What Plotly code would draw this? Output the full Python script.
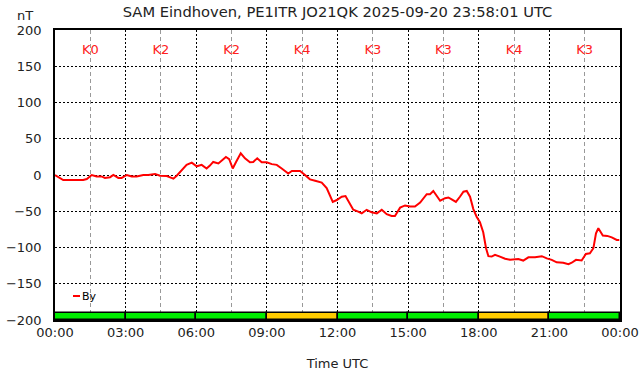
import plotly.graph_objects as go

# ---- data ----
hours = [0.00, 0.14, 0.35, 0.64, 0.92, 1.06, 1.20, 1.35, 1.56, 1.77, 1.98, 2.12, 2.34, 2.48, 2.69, 2.83,
         3.05, 3.26, 3.47, 3.75, 3.96, 4.25, 4.46, 4.75, 5.03, 5.17, 5.38, 5.59, 5.81, 6.02, 6.23, 6.44,
         6.58, 6.72, 6.94, 7.08, 7.26, 7.40, 7.55, 7.69, 7.89, 8.07, 8.28, 8.42, 8.59, 8.78, 8.99, 9.21,
         9.42, 9.63, 9.91, 10.06, 10.41, 10.62, 10.83, 11.05, 11.33, 11.54, 11.80, 11.97, 12.18, 12.34,
         12.53, 12.67, 12.88, 13.03, 13.24, 13.45, 13.67, 13.88, 14.09, 14.30, 14.44, 14.66, 14.87, 15.08,
         15.29, 15.51, 15.79, 15.93, 16.07, 16.21, 16.36, 16.57, 16.71, 16.85, 17.03, 17.20, 17.35, 17.49,
         17.63, 17.77, 17.91, 18.05, 18.19, 18.31, 18.41, 18.55, 18.69, 18.90, 19.12, 19.33, 19.54, 19.68,
         19.89, 20.11, 20.39, 20.68, 20.89, 21.10, 21.31, 21.59, 21.81, 21.95, 22.13, 22.37, 22.55, 22.72,
         22.87, 22.98, 23.08, 23.27, 23.46, 23.65, 23.86, 23.97]
by_nT = [0, -3, -7, -7, -7, -6, -7, -5.5, 0, -2, -2, -4, -3, 0, -4, -4,
         0, -2, -2, 0, 0, 1.5, -1, -1.5, -5, -1, 7, 14, 17, 12, 14, 9,
         13, 18, 16, 20, 25, 22, 9, 18, 30, 23, 17.5, 18, 23, 17.5, 17.5, 15,
         14, 9, 2, 5.5, 5.5, 0, -6, -8, -10.5, -18, -37, -34.5, -30, -29,
         -40, -48, -50.5, -53, -48, -51.5, -53, -48, -54, -56.5, -56.5, -45, -42, -43.5,
         -43.5, -38, -26.5, -26.5, -22, -29, -35.5, -32, -31, -33.5, -37, -30, -23, -22,
         -30, -47, -57.5, -65, -79, -101, -112, -112.5, -110, -112.5, -115.5, -117, -116, -116,
         -118, -113.5, -113.5, -112, -115, -117, -120.5, -121, -123, -121, -117, -118, -109, -108,
         -101, -80.5, -73.5, -83.5, -84, -86, -89.5, -89.5]

k_start_hours = [0, 3, 6, 9, 12, 15, 18, 21]
k_index = [0, 2, 2, 4, 3, 3, 4, 3]
k_labels = ["K0", "K2", "K2", "K4", "K3", "K3", "K4", "K3"]

x_tickvals = [0, 3, 6, 9, 12, 15, 18, 21, 24]
x_ticktext = ["00:00", "03:00", "06:00", "09:00", "12:00", "15:00", "18:00", "21:00", "00:00"]
x_minor_vals = [1.5, 4.5, 7.5, 10.5, 13.5, 16.5, 19.5, 22.5]
y_tickvals = [200, 150, 100, 50, 0, -50, -100, -150, -200]

title = "SAM Eindhoven, PE1ITR JO21QK 2025-09-20 23:58:01 UTC"

FONT = "DejaVu Sans"
Y_MIN, Y_MAX = -200, 200
K_BAR_H = 10
K_LABEL_Y = 172

k_centers = [s + 1.5 for s in k_start_hours]
k_colors = ["#ffcc00" if k >= 4 else "#00ee00" for k in k_index]

fig = go.Figure()

fig.add_trace(go.Bar(
    x=k_centers, y=[K_BAR_H] * len(k_centers), base=Y_MIN, width=3,
    marker=dict(color=k_colors, line=dict(color="black", width=1.5)),
    showlegend=False, hoverinfo="skip"))

fig.add_trace(go.Scatter(
    x=hours, y=by_nT, mode="lines", name="By",
    line=dict(color="#ff0000", width=2), showlegend=False))

fig.add_trace(go.Scatter(
    x=k_centers, y=[K_LABEL_Y] * len(k_centers), mode="text", text=k_labels,
    textfont=dict(color="#ff2020", size=13, family=FONT),
    showlegend=False, hoverinfo="skip"))

fig.update_layout(
    width=642, height=376,
    margin=dict(l=55, r=22, t=30, b=56, autoexpand=False),
    paper_bgcolor="white", plot_bgcolor="white",
    font=dict(family=FONT, size=13, color="#222222"),
    title=dict(text=title, x=(55 + 620) / 2 / 642, xanchor="center",
               y=1 - 12 / 376, yanchor="middle", font=dict(size=14.7, color="#222222"),
               automargin=False),
    showlegend=False,
    bargap=0,
)

fig.update_xaxes(
    range=[0, 24], tickvals=x_tickvals, ticktext=x_ticktext,
    showgrid=True, gridcolor="black", gridwidth=1, griddash="2px,2px",
    minor=dict(tickvals=x_minor_vals, showgrid=True, gridcolor="#999999",
               gridwidth=1, griddash="4px,3px"),
    showline=True, linecolor="black", linewidth=1.5, mirror=True,
    ticks="", tickfont=dict(size=13), zeroline=False, automargin=False,
    title=dict(text="Time UTC", font=dict(size=13), standoff=20),
)

fig.update_yaxes(
    range=[Y_MIN, Y_MAX], tickvals=y_tickvals,
    showgrid=True, gridcolor="black", gridwidth=1, griddash="2px,2px",
    showline=True, linecolor="black", linewidth=1.5, mirror=True,
    ticks="", tickfont=dict(size=13), zeroline=False, automargin=False,
    ticklabelstandoff=9,
)

# y-axis unit label
fig.add_annotation(text="nT", xref="paper", yref="paper",
                   x=(25 - 55) / 565, y=(320 - 15) / 290, showarrow=False,
                   xanchor="center", yanchor="middle", font=dict(size=13))

# manual legend
fig.add_shape(type="line", xref="paper", yref="paper",
              x0=(73 - 55) / 565, x1=(80 - 55) / 565,
              y0=(320 - 296) / 290, y1=(320 - 296) / 290,
              line=dict(color="#ff0000", width=2))
fig.add_annotation(text="By", xref="paper", yref="paper",
                   x=(80 - 55) / 565, y=(320 - 296) / 290, showarrow=False,
                   xanchor="left", yanchor="middle", font=dict(size=11, color="black"))

fig.write_html("out.html", config={"displayModeBar": False},
               post_script="document.body.style.margin='0';")
